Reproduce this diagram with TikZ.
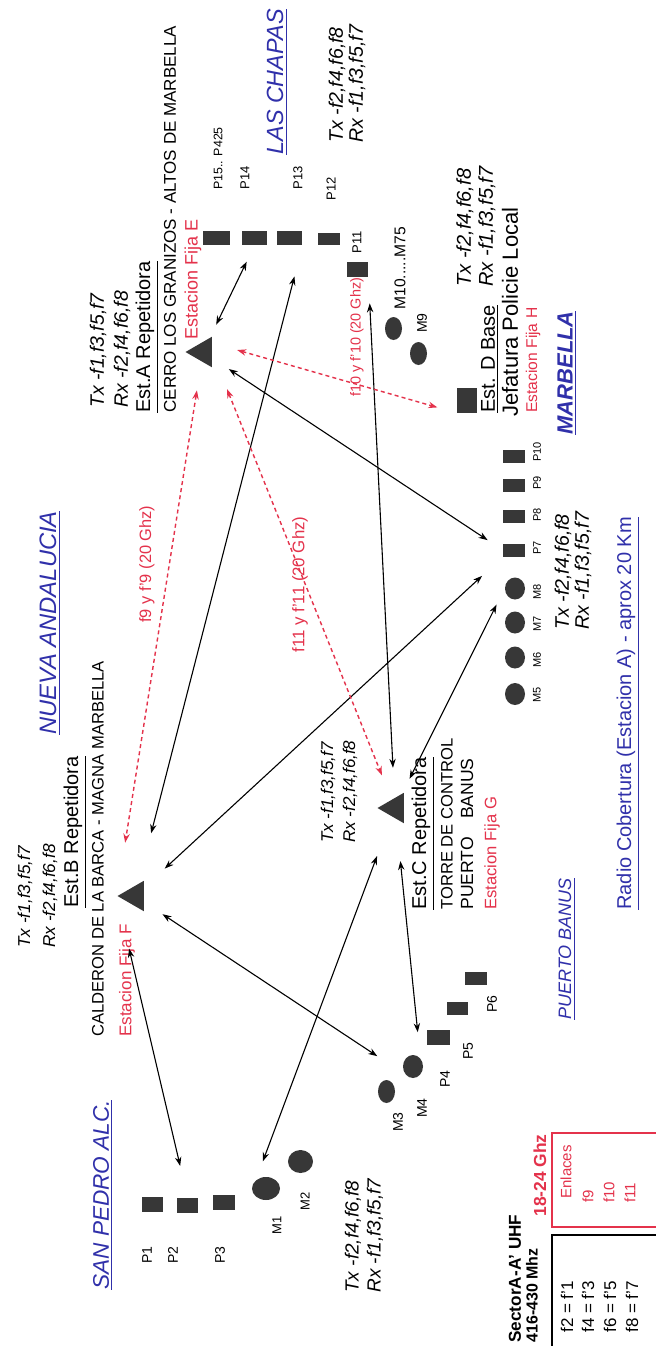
\documentclass[tikz,border=0pt]{standalone}
\usepackage{fontspec}
\setmainfont{Liberation Sans}
\usetikzlibrary{arrows.meta,shapes.geometric}
\definecolor{bl}{RGB}{48,48,170}
\definecolor{rd}{RGB}{228,50,75}
\definecolor{dk}{RGB}{55,55,55}
\newcommand{\fsz}[1]{\fontsize{#1}{#1}\selectfont}
\begin{document}
\begin{tikzpicture}[x=0.5pt,y=-0.5pt,
  sq/.style={rectangle, fill=dk, inner sep=0pt, minimum width=11pt, minimum height=7pt},
  dot/.style={ellipse, fill=dk, inner sep=0pt, minimum width=10pt, minimum height=11.5pt},
  tri/.style={regular polygon, regular polygon sides=3, shape border rotate=90, fill=dk, inner sep=0pt, minimum size=17.5pt},
  lab/.style={rotate=90, anchor=west, inner sep=0pt},
  clab/.style={rotate=90, anchor=center, inner sep=0pt},
  txrx/.style={lab, font=\fsz{#1}\itshape},
  region/.style={lab, text=bl, font=\fsz{#1}\itshape},
  link/.style={line width=0.55pt, {Stealth[length=4.5pt,width=3.2pt]}-{Stealth[length=4.5pt,width=3.2pt]}},
  rlink/.style={rd, line width=0.7pt, dash pattern=on 2pt off 1.6pt, {Stealth[length=4.5pt,width=3.2pt]}-{Stealth[length=4.5pt,width=3.2pt]}}
]
\fill[white] (0,0) rectangle (656,1346);
\useasboundingbox (0,0) rectangle (656,1346);

% ---------- stations ----------
\node[tri] (A) at (203,352) {};
\node[tri] (B) at (135,896) {};
\node[tri] (C) at (395,808) {};
\node[sq, minimum width=10pt, minimum height=12.5pt] (D) at (467,400) {};

% ---------- Las Chapas ----------
\node[sq, minimum width=13.5pt] (P15) at (216.5,238) {};
\node[sq, minimum width=12.5pt] (P14) at (254.5,238) {};
\node[sq, minimum width=12.5pt] (P13) at (289.5,238) {};
\node[sq, minimum width=11pt, minimum height=6pt] (P12) at (329,239) {};
\node[sq, minimum width=10.5pt, minimum height=7.5pt] (P11) at (357.5,269.5) {};
\node[dot, minimum width=8.5pt] (M10) at (393.5,328.5) {};
\node[dot, minimum width=8.5pt] (M9) at (418.5,353.5) {};

\node[lab, font=\fsz{6.2}] (lP15) at (218,190) {P15.. P425};
\node[lab, font=\fsz{6.5}] (lP14) at (245,190) {P14};
\node[lab, font=\fsz{6.5}] (lP13) at (298,190) {P13};
\node[lab, font=\fsz{6.5}] (lP12) at (331,201) {P12};
\node[clab, font=\fsz{6.5}] (lP11) at (357,242) {P11};
\node[lab, font=\fsz{7.8}] (lM10) at (400,310) {M10.....M75};
\node[clab, font=\fsz{7}] (lM9) at (422,323) {M9};

% ---------- Marbella group ----------
\node[sq, minimum height=6.5pt] (P10) at (514,456.5) {};
\node[sq, minimum height=6.5pt] (P9) at (514,485) {};
\node[sq, minimum height=6.5pt] (P8) at (514,516.5) {};
\node[sq, minimum height=6.5pt] (P7) at (514,550) {};
\node[dot, minimum height=11pt] (M8) at (515,588.5) {};
\node[dot, minimum height=11pt] (M7) at (515,622.5) {};
\node[dot, minimum height=11pt] (M6) at (515,657.5) {};
\node[dot, minimum height=11pt] (M5) at (515,694) {};
\node[clab, font=\fsz{5.5}] (lP10) at (537,452) {P10};
\node[clab, font=\fsz{5.5}] (lP9) at (537,483) {P9};
\node[clab, font=\fsz{5.5}] (lP8) at (537,515) {P8};
\node[clab, font=\fsz{5.5}] (lP7) at (537,548) {P7};
\node[clab, font=\fsz{5.5}] (lM8) at (537,592) {M8};
\node[clab, font=\fsz{5.5}] (lM7) at (537,624) {M7};
\node[clab, font=\fsz{5.5}] (lM6) at (537,660) {M6};
\node[clab, font=\fsz{5.5}] (lM5) at (537,695) {M5};

% ---------- San Pedro ----------
\node[sq, minimum width=10.5pt, minimum height=7.5pt] (P1) at (152.5,1204.5) {};
\node[sq, minimum width=10.5pt, minimum height=7.5pt] (P2) at (187.5,1205) {};
\node[sq, minimum width=11pt, minimum height=7.5pt] (P3) at (224,1202.5) {};
\node[dot, minimum width=14pt] (M1) at (266,1188.5) {};
\node[dot, minimum width=12.5pt] (M2) at (300.5,1161.5) {};
\node[clab, font=\fsz{7}] (lP1) at (147,1255) {P1};
\node[clab, font=\fsz{7}] (lP2) at (173,1255) {P2};
\node[clab, font=\fsz{7}] (lP3) at (220,1255) {P3};
\node[clab, font=\fsz{6.5}] (lM1) at (277,1225) {M1};
\node[clab, font=\fsz{6.5}] (lM2) at (305,1201) {M2};

% ---------- Puerto Banus ----------
\node[dot, minimum width=8.5pt] (M3) at (386.5,1091.5) {};
\node[dot, minimum width=10pt] (M4) at (413,1066.5) {};
\node[sq, minimum width=11.5pt, minimum height=7.5pt] (P4) at (438.5,1037.5) {};
\node[sq, minimum width=10.5pt, minimum height=6.5pt] (P5) at (457.5,1008.5) {};
\node[sq, minimum width=11pt, minimum height=6.5pt] (P6) at (476,978.5) {};
\node[clab, font=\fsz{7}] (lM3) at (398,1122) {M3};
\node[clab, font=\fsz{7}] (lM4) at (422,1108) {M4};
\node[clab, font=\fsz{7}] (lP4) at (445,1079) {P4};
\node[clab, font=\fsz{7}] (lP5) at (468,1051) {P5};
\node[clab, font=\fsz{7}] (lP6) at (492,1004) {P6};

% ---------- Station A texts ----------
\node[txrx=9.7] (txA) at (98,408) {Tx -f1,f3,f5,f7};
\node[txrx=9.7] (rxA) at (122,408) {Rx -f2,f4,f6,f8};
\node[lab, font=\fsz{10}] (estA) at (147,413) {\underline{Est.A Repetidora}};
\node[lab, font=\fsz{8.5}] (cerro) at (170,413) {CERRO LOS GRANIZOS - ALTOS DE MARBELLA};
\node[lab, font=\fsz{9}, text=rd] (fijaE) at (193,340) {Estacion Fija E};

\node[region=11.7] (chapas) at (277,155) {\underline{LAS CHAPAS}};
\node[txrx=9.8] (txLC) at (337,143) {Tx -f2,f4,f6,f8};
\node[txrx=9.8] (rxLC) at (357,143) {Rx -f1,f3,f5,f7};

% ---------- Station B texts ----------
\node[txrx=8.6] (txB) at (25,948) {Tx -f1,f3,f5,f7};
\node[txrx=8.6] (rxB) at (50,948) {Rx -f2,f4,f6,f8};
\node[lab, font=\fsz{10}] (estB) at (75,908) {\underline{Est.B Repetidora}};
\node[lab, font=\fsz{8.3}] (calderon) at (98,1037) {CALDERON DE LA BARCA - MAGNA MARBELLA};
\node[lab, font=\fsz{8.5}, text=rd] (fijaF) at (127,1037) {Estacion Fija F};
\node[region=11.9] (nueva) at (50,735) {\underline{NUEVA ANDALUCIA}};

% ---------- Station C texts ----------
\node[txrx=8.5] (txC) at (328,843) {Tx -f1,f3,f5,f7};
\node[txrx=8.5] (rxC) at (350,843) {Rx -f2,f4,f6,f8};
\node[lab, font=\fsz{10}] (estC) at (423,910) {\underline{Est.C Repetidora}};
\node[lab, font=\fsz{8.3}] (torre) at (447,910) {TORRE DE CONTROL};
\node[lab, font=\fsz{8.8}] (puertoC) at (467,910) {PUERTO\hspace{9pt}BANUS};
\node[lab, font=\fsz{8.3}, text=rd] (fijaG) at (492,910) {Estacion Fija G};

% ---------- Station D texts ----------
\node[txrx=10] (txD) at (465,287) {Tx -f2,f4,f6,f8};
\node[txrx=10] (rxD) at (487,287) {Rx -f1,f3,f5,f7};
\node[lab, font=\fsz{10}] (estD) at (490,413) {\underline{Est. D Base}};
\node[lab, font=\fsz{11}] (jefatura) at (510,417) {Jefatura Policie Local};
\node[lab, font=\fsz{7.8}, text=rd] (fijaH) at (533,413) {Estacion Fija H};
\node[lab, text=bl, font=\fsz{11}\bfseries\itshape] (marbella) at (567,435) {\underline{MARBELLA}};

% ---------- other texts ----------
\node[txrx=9.8] (txM) at (563,630) {Tx -f2,f4,f6,f8};
\node[txrx=9.8] (rxM) at (583,630) {Rx -f1,f3,f5,f7};
\node[lab, text=bl, font=\fsz{10}] (radio) at (628,910) {\underline{Radio Cobertura (Estacion A) - aprox 20 Km}};
\node[region=9] (puerto) at (567,1020) {\underline{PUERTO BANUS}};
\node[region=11.3] (sanpedro) at (103,1290) {\underline{SAN PEDRO ALC.}};
\node[txrx=9.5] (txSP) at (353,1293) {Tx -f2,f4,f6,f8};
\node[txrx=9.5] (rxSP) at (375,1293) {Rx -f1,f3,f5,f7};

% ---------- link labels ----------
\node[lab, font=\fsz{8.2}, text=rd] (lf9) at (147,623) {f9 y f'9 (20 Ghz)};
\node[lab, font=\fsz{8.4}, text=rd] (lf11) at (300,653) {f11 y f'11 (20 Ghz)};
\node[lab, font=\fsz{7.2}, text=rd] (lf10) at (357,397) {f10 y f'10 (20 Ghz)};

% ---------- legend ----------
\node[lab, font=\fsz{8.6}\bfseries] (sector) at (515,1343) {SectorA-A' UHF};
\node[lab, font=\fsz{8}\bfseries] (uhf) at (532,1343) {416-430 Mhz};
\node[lab, font=\fsz{8.7}\bfseries, text=rd] (ghz) at (540,1217) {18-24 Ghz};
\draw[rd, line width=0.6pt] (552,1133) rectangle (700,1227);
\draw[line width=0.6pt] (552,1235) rectangle (700,1400);
\node[lab, font=\fsz{7.5}, text=rd] (enl) at (566,1199) {Enlaces};
\node[lab, font=\fsz{7.5}, text=rd] (e9) at (588,1203) {f9};
\node[lab, font=\fsz{7.5}, text=rd] (e10) at (609,1203) {f10};
\node[lab, font=\fsz{7.5}, text=rd] (e11) at (630,1203) {f11};
\node[lab, font=\fsz{8.5}] (q1) at (567,1333) {f2 = f'1};
\node[lab, font=\fsz{8.5}] (q2) at (588,1333) {f4 = f'3};
\node[lab, font=\fsz{8.5}] (q3) at (610,1333) {f6 = f'5};
\node[lab, font=\fsz{8.5}] (q4) at (632,1333) {f8 = f'7};

% ---------- UHF connectors ----------
\draw[link, shorten <=7pt, shorten >=9pt] (A) -- (P14.south);
\draw[link, shorten <=26pt, shorten >=16pt] (B) -- (P13.south east);
\draw[link, shorten <=10pt, shorten >=9pt] (A) -- (P7.west);
\draw[link, shorten <=14pt, shorten >=14pt] (B) -- (P7.south west);
\draw[link, shorten <=15pt, shorten >=13pt] (C) -- (P11.south east);
\draw[link, shorten <=8pt, shorten >=9pt] (C) -- (M8.west);
\draw[link, shorten <=21pt, shorten >=10pt] (C) -- (M1.north west);
\draw[link, shorten <=21pt, shorten >=13pt] (C) -- (M4.north east);
\draw[link, shorten <=11pt, shorten >=17pt] (B) -- (M4.south west);
\draw[link, shorten <=27pt, shorten >=16pt] (B.west) -- (P2.north);

% ---------- 20 GHz links ----------
\draw[rlink, shorten <=14.5pt, shorten >=27pt] (A) -- (B.west);
\draw[rlink, shorten <=20pt, shorten >=13pt] (A.east) -- (C);
\draw[rlink, shorten <=13pt, shorten >=10pt] (A.north east) -- (D.south west);
\end{tikzpicture}
\end{document}
